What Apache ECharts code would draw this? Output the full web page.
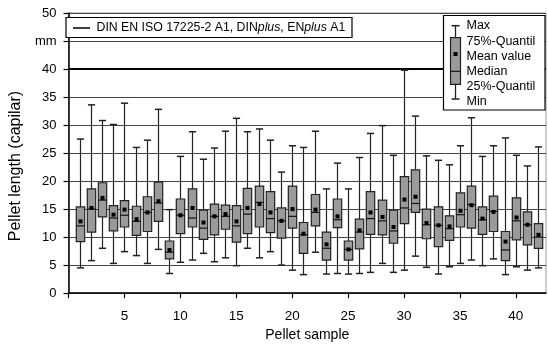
<!DOCTYPE html>
<html>
<head>
<meta charset="utf-8">
<script src="https://cdn.jsdelivr.net/npm/echarts@6/dist/echarts.min.js"></script>
<style>
html,body{margin:0;padding:0;background:#fff;}
#c{width:548px;height:347px;}
</style>
</head>
<body>
<div id="c"></div>
<script>
// ---- data ----
const samples = [1,2,3,4,5,6,7,8,9,10,11,12,13,14,15,16,17,18,19,20,21,22,23,24,25,26,27,28,29,30,31,32,33,34,35,36,37,38,39,40,41,42];
const minV  = [4.5,5.8,8.0,5.3,7.4,6.7,5.3,7.8,3.5,5.5,5.9,7.1,5.6,6.3,4.9,8.0,6.3,7.4,5.0,4.1,3.3,7.3,3.4,3.5,3.4,3.5,3.7,5.3,3.7,4.1,6.6,4.6,3.4,4.7,5.3,5.9,4.9,6.1,3.3,4.7,4.1,4.5];
const q1V   = [9.2,10.9,13.6,11.1,11.8,10.3,11.0,12.8,6.1,10.6,11.8,9.6,10.4,11.4,9.1,10.6,11.8,10.8,9.8,11.6,7.1,12.0,5.9,11.7,5.9,7.9,10.5,10.4,8.9,12.4,14.4,9.7,8.3,9.4,11.8,11.6,10.5,11.0,5.8,9.5,8.6,8.0];
const medV  = [12.0,15.0,16.6,13.4,13.9,12.8,14.4,16.1,7.3,13.9,13.4,11.6,13.7,13.7,12.0,14.1,16.2,13.3,12.9,13.7,10.4,14.4,8.0,13.1,7.8,10.9,13.3,12.9,11.1,15.2,16.0,12.2,12.1,11.5,14.0,15.8,13.1,14.6,7.7,12.9,12.2,10.0];
const q3V   = [15.4,18.6,19.7,15.6,16.5,15.5,17.2,19.8,9.3,16.8,18.6,14.8,15.9,15.7,15.6,18.7,19.1,18.1,15.2,19.1,12.6,17.6,10.9,16.8,9.3,13.2,18.1,16.6,14.8,20.8,22.0,15.0,15.4,13.8,17.9,19.1,15.4,17.3,11.0,17.0,14.5,12.4];
const maxV  = [27.5,33.6,30.8,30.1,33.9,26.0,27.3,32.8,14.9,24.4,28.8,23.9,25.9,28.9,31.2,28.8,29.3,27.3,21.6,26.3,26.0,28.9,18.6,23.2,18.6,24.2,28.5,29.9,24.6,39.8,31.6,24.5,23.7,22.9,26.3,31.3,24.4,26.3,27.7,24.6,22.7,26.1];
const meanV = [12.8,15.2,17.0,14.0,14.9,13.2,14.4,16.4,7.7,13.9,15.2,12.6,13.7,14.1,12.8,15.2,15.9,14.4,12.9,15.0,10.6,14.9,8.7,13.7,7.8,11.2,14.4,13.6,11.8,16.7,17.2,12.5,12.1,11.9,14.7,15.7,13.3,14.5,9.2,13.5,12.2,10.4];
const LIMIT = 40;
const Y_TICKS = [0,5,10,15,20,25,30,35,40,45,50];
const Y_LABELS = ['0','5','10','15','20','25','30','35','40','mm','50'];
const X_TICKS = [0,5,10,15,20,25,30,35,40];
const X_LABELS = [5,10,15,20,25,30,35,40];
const LEGEND_TEXT = 'DIN EN ISO 17225-2 A1, DIN{i|plus}, EN{i|plus} A1';
const BOX_LEGEND = ['Max','75%-Quantil','Mean value','Median','25%-Quantil','Min'];

const FONT = "'Liberation Sans', Arial, sans-serif";
const data = samples.map((s,i)=>[s, minV[i], q1V[i], medV[i], q3V[i], maxV[i], meanV[i]]);

const chart = echarts.init(document.getElementById('c'), null, {renderer:'canvas'});

function renderItem(params, api){
  const x = api.value(0);
  const pMin = api.coord([x, api.value(1)]);
  const pQ1 = api.coord([x, api.value(2)]);
  const pMed = api.coord([x, api.value(3)]);
  const pQ3 = api.coord([x, api.value(4)]);
  const pMax = api.coord([x, api.value(5)]);
  const pMean = api.coord([x, api.value(6)]);
  const cx = Math.round(pMin[0]) + 0.5;
  const hw = 4.2, cw = 3.6;
  const ls = {stroke:'#222', lineWidth:1.2};
  return {
    type:'group',
    children:[
      {type:'line', shape:{x1:cx,y1:pMax[1],x2:cx,y2:pQ3[1]}, style:ls},
      {type:'line', shape:{x1:cx,y1:pQ1[1],x2:cx,y2:pMin[1]}, style:ls},
      {type:'line', shape:{x1:cx-cw,y1:pMax[1],x2:cx+cw,y2:pMax[1]}, style:{stroke:'#222',lineWidth:1.5}},
      {type:'line', shape:{x1:cx-cw,y1:pMin[1],x2:cx+cw,y2:pMin[1]}, style:{stroke:'#222',lineWidth:1.5}},
      {type:'rect', shape:{x:cx-hw,y:pQ3[1],width:2*hw,height:pQ1[1]-pQ3[1]}, style:{fill:'#9a9a9a',stroke:'#222',lineWidth:1.2}},
      {type:'line', shape:{x1:cx-hw,y1:pMed[1],x2:cx+hw,y2:pMed[1]}, style:{stroke:'#111',lineWidth:1.2}},
      {type:'rect', shape:{x:cx-2,y:pMean[1]-2,width:4,height:4}, style:{fill:'#000'}}
    ]
  };
}

// legend graphics (box legend)
const lx = 455.5;
const boxLegendY = [25.7, 41.7, 56.7, 71.3, 86.7, 101.7];
const gfx = [
  {type:'rect', shape:{x:66,y:17.5,width:286,height:20}, style:{fill:'#fff',stroke:'#000',lineWidth:1.2}, z:100},
  {type:'line', shape:{x1:73,y1:28,x2:90,y2:28}, style:{stroke:'#000',lineWidth:1.5}, z:101},
  {type:'text', x:96.5, y:28, style:{text:LEGEND_TEXT, font:'12.3px '+FONT, fill:'#000', verticalAlign:'middle',
     rich:{i:{fontStyle:'italic', fontSize:12.3, fontFamily:FONT}}}, z:101},
  {type:'rect', shape:{x:443.5,y:15.5,width:101.5,height:94.5}, style:{fill:'#fff',stroke:'#000',lineWidth:1.2}, z:100},
  {type:'line', shape:{x1:lx,y1:25.7,x2:lx,y2:99}, style:{stroke:'#222',lineWidth:1.3}, z:101},
  {type:'line', shape:{x1:lx-4,y1:25.7,x2:lx+4,y2:25.7}, style:{stroke:'#222',lineWidth:1.5}, z:101},
  {type:'line', shape:{x1:lx-4,y1:99,x2:lx+4,y2:99}, style:{stroke:'#222',lineWidth:1.5}, z:101},
  {type:'rect', shape:{x:lx-5,y:37.7,width:10,height:46.6}, style:{fill:'#9a9a9a',stroke:'#222',lineWidth:1.2}, z:101},
  {type:'line', shape:{x1:lx-5,y1:71.3,x2:lx+5,y2:71.3}, style:{stroke:'#111',lineWidth:1.2}, z:102},
  {type:'rect', shape:{x:lx-2,y:52,width:4,height:4}, style:{fill:'#000'}, z:102}
];
BOX_LEGEND.forEach((t,i)=>{
  gfx.push({type:'text', x:466.5, y:boxLegendY[i], style:{text:t, font:'12.5px '+FONT, fill:'#000', verticalAlign:'middle'}, z:101});
});

chart.setOption({
  animation:false,
  backgroundColor:'#fff',
  grid:{left:62, right:2, top:13, bottom:43, show:true, borderColor:'#999', borderWidth:1, containLabel:false},
  xAxis:{
    type:'value', min:0, max:42.7,
    name:'Pellet sample', nameLocation:'middle', nameGap:34,
    nameTextStyle:{fontFamily:FONT, fontSize:14, color:'#000'},
    axisLine:{show:true, onZero:false, lineStyle:{color:'#000', width:1.5}},
    axisTick:{show:true, customValues:X_TICKS, length:5, lineStyle:{color:'#000', width:1.2}},
    axisLabel:{customValues:X_LABELS, margin:16, fontFamily:FONT, fontSize:13.5, color:'#000'},
    splitLine:{show:false}
  },
  yAxis:{
    type:'value', min:0, max:50, interval:5,
    name:'Pellet length (capilar)', nameLocation:'middle', nameGap:28,
    nameTextStyle:{fontFamily:FONT, fontSize:16, color:'#000', padding:[0,26,0,0]},
    axisLine:{show:true, lineStyle:{color:'#000', width:1.5}},
    axisTick:{show:true, length:5, lineStyle:{color:'#000', width:1.2}},
    axisLabel:{margin:12, fontFamily:FONT, fontSize:13, color:'#000',
      formatter:(v)=>{const k=Y_TICKS.indexOf(v); return k>=0?Y_LABELS[k]:'';}},
    splitLine:{show:true, lineStyle:{color:'#444', width:1}}
  },
  series:[
    {
      type:'custom', renderItem:renderItem, data:data, encode:{x:0, y:[1,2,3,4,5,6]}, z:3,
      markLine:{silent:true, symbol:['none','none'], label:{show:false},
        lineStyle:{color:'#000', width:2, type:'solid'}, data:[{yAxis:LIMIT}], z:2}
    }
  ],
  graphic:gfx
});
</script>
</body>
</html>
